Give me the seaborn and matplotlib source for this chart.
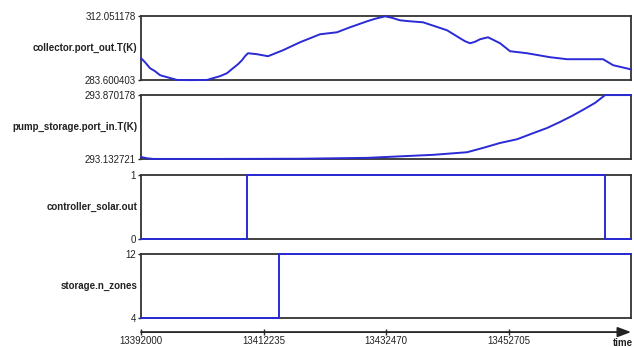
import numpy as np
import pandas as pd
import matplotlib
matplotlib.use("Agg")
import matplotlib.pyplot as plt
import seaborn as sns

sns.set_style("white")
plt.rcParams['font.family'] = ['Liberation Sans', 'DejaVu Sans']

# ------------------------------
# data
# ------------------------------
t_collector = [13392000, 13392661, 13393487, 13394313, 13395138, 13396295, 13397946,
               13400094, 13402902, 13403893, 13405049, 13406206, 13407197, 13408022,
               13408683, 13409178, 13409674, 13411161, 13412978, 13415456, 13418264,
               13421568, 13424376, 13426523, 13429331, 13430652, 13432304, 13433460,
               13434782, 13436433, 13438581, 13442545, 13444693, 13445519, 13446345,
               13447170, 13447996, 13449318, 13451300, 13452952, 13455760, 13459559,
               13462367, 13468314, 13469966, 13472940]
T_collector = [293.40, 291.60, 288.93, 287.60, 285.82, 284.93, 283.70,
               283.62, 283.70, 284.49, 285.38, 286.71, 288.93, 290.71,
               292.49, 294.27, 295.60, 295.16, 294.27, 296.94, 300.49,
               304.05, 304.94, 307.16, 309.83, 310.94, 312.05, 311.38,
               310.27, 309.83, 309.38, 305.83, 302.27, 300.94, 300.05,
               300.71, 301.83, 302.71, 300.05, 296.49, 295.60, 293.82,
               292.93, 292.93, 290.27, 288.40]

t_pump = [13392000, 13393000, 13394000, 13405000, 13418264, 13429331, 13440234,
          13445850, 13448491, 13451300, 13454107, 13456751, 13459063, 13461211,
          13463192, 13465010, 13466991, 13468644, 13472940]
T_pump = [293.155, 293.140, 293.1327, 293.1327, 293.135, 293.145, 293.18,
          293.21, 293.26, 293.317, 293.36, 293.43, 293.49, 293.56,
          293.63, 293.70, 293.78, 293.870178, 293.870178]

t_ctrl = [13392000, 13409509, 13468644, 13472940]
ctrl = [0, 1, 0, 0]

t_zones = [13392000, 13414795, 13472940]
zones = [4, 12, 12]

time_ticks = [13392000, 13412235, 13432470, 13452705]
t_min, t_max = 13392000, 13472940

panels = [
    ("collector.port_out.T(K)", t_collector, T_collector, 283.600403, 312.051178,
     ["283.600403", "312.051178"], "default"),
    ("pump_storage.port_in.T(K)", t_pump, T_pump, 293.132721, 293.870178,
     ["293.132721", "293.870178"], "default"),
    ("controller_solar.out", t_ctrl, ctrl, 0, 1, ["0", "1"], "steps-post"),
    ("storage.n_zones", t_zones, zones, 4, 12, ["4", "12"], "steps-post"),
]

fig = plt.figure(figsize=(6.34, 3.47), dpi=100)
left, width = 0.2224, 0.773
bottoms = [0.769, 0.542, 0.311, 0.0836]
height = 0.184
line_color = "#2a2ad6"

for (label, t, v, lo, hi, ticklabels, ds), b in zip(panels, bottoms):
    ax = fig.add_axes([left, b, width, height])
    df = pd.DataFrame({"t": t, "v": v})
    sns.lineplot(data=df, x="t", y="v", ax=ax, color=line_color, lw=1.4,
                 drawstyle=ds, clip_on=False, zorder=4)
    ax.set_xlim(t_min, t_max)
    ax.set_ylim(lo, hi)
    ax.set_xticks([])
    ax.set_yticks([lo, hi])
    ax.set_yticklabels(ticklabels, fontsize=7, color="#222222")
    ax.tick_params(axis="y", length=2.5, width=1, pad=1, left=True)
    ax.set_xlabel("")
    ax.set_ylabel(label, rotation=0, ha="right", va="center", fontsize=7,
                  fontweight="bold", color="#222222")
    ax.yaxis.set_label_coords(-0.008, 0.5)
    for s in ax.spines.values():
        s.set_visible(True)
        s.set_linewidth(1.3)
        s.set_color("#333333")
        s.set_zorder(2)

# ------------------------------
# time axis with arrow
# ------------------------------
tax = fig.add_axes([left, 0.043, width, 0.001])
tax.set_xlim(t_min, t_max)
tax.set_yticks([])
for s in ["left", "right", "top", "bottom"]:
    tax.spines[s].set_visible(False)
tax.set_xticks(time_ticks)
tax.set_xticklabels([str(x) for x in time_ticks], fontsize=7, color="#222222")
tax.tick_params(axis="x", direction="inout", length=4, width=1, pad=1, bottom=True)
tax.annotate("", xy=(1.0, 0), xycoords="axes fraction", xytext=(0, 0),
             textcoords="axes fraction",
             arrowprops=dict(arrowstyle="-|>,head_length=0.8,head_width=0.3",
                             color="#222222", lw=1.3, shrinkA=0, shrinkB=0))
tax.annotate("time", xy=(1.0, 0), xycoords="axes fraction", xytext=(-6, -4),
             textcoords="offset points", fontsize=7, fontweight="bold",
             ha="center", va="top", color="#222222")

fig.savefig("out.png", dpi=100)
